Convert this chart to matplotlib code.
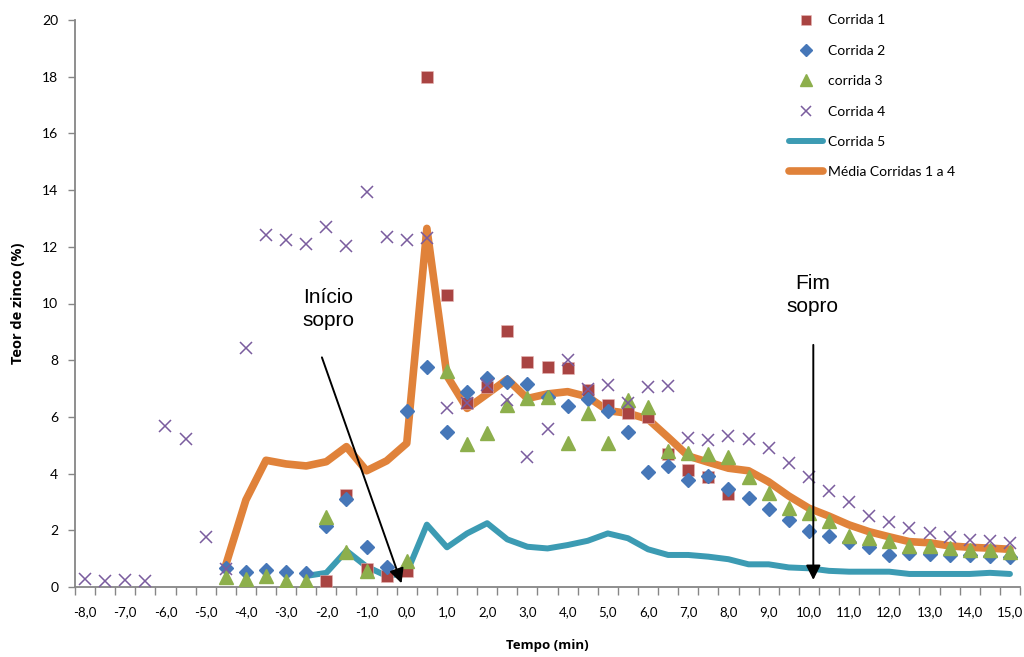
import numpy as np
import matplotlib
matplotlib.use('Agg')
import matplotlib.pyplot as plt

nan = np.nan

# ── Data (teor de zinco, %) ───────────────────────────────────
tempo = [-8.0, -7.5, -7.0, -6.5, -6.0, -5.5, -5.0, -4.5, -4.0, -3.5,
         -3.0, -2.5, -2.0, -1.5, -1.0, -0.5, 0.0, 0.5, 1.0, 1.5,
         2.0, 2.5, 3.0, 3.5, 4.0, 4.5, 5.0, 5.5, 6.0, 6.5,
         7.0, 7.5, 8.0, 8.5, 9.0, 9.5, 10.0, 10.5, 11.0, 11.5,
         12.0, 12.5, 13.0, 13.5, 14.0, 14.5, 15.0]

corrida1 = [nan] * 12 + [
    0.2, 3.25, 0.65, 0.38, 0.55, 18.0, 10.3, 6.5, 7.05, 9.03,
    7.93, 7.77, 7.71, 6.95, 6.42, 6.13, 6.0, 4.7, 4.12, 3.87,
    3.28] + [nan] * 14

corrida2 = [nan] * 7 + [
    0.66, 0.54, 0.6, 0.54, 0.5, 2.15, 3.12, 1.4, 0.72, 6.22,
    7.75, 5.46, 6.88, 7.38, 7.22, 7.16, 6.71, 6.38, 6.63, 6.22,
    5.48, 4.07, 4.27, 3.77, 3.92, 3.46, 3.13, 2.74, 2.36, 1.98,
    1.8, 1.6, 1.42, 1.13, 1.2, 1.17, 1.12, 1.12, 1.08, 1.05]

corrida3 = [nan] * 7 + [
    0.36, 0.28, 0.39, 0.21, 0.21, 2.48, 1.25, 0.57, nan, 0.9,
    nan, 7.63, 5.03, 5.42, 6.42, 6.65, 6.71, 5.09, 6.15, 5.09,
    6.6, 6.34, 4.81, 4.72, 4.68, 4.6, 3.87, 3.33, 2.78, 2.6,
    2.34, 1.8, 1.72, 1.63, 1.45, 1.43, 1.37, 1.31, 1.31, 1.25]

corrida4 = [0.27, 0.22, 0.25, 0.22, 5.68, 5.21, 1.75, 0.62, 8.44, 12.42,
            12.24, 12.09, 12.71, 12.03, 13.92, 12.33, 12.24, 12.3, 6.32, 6.5,
            7.12, 6.6, 4.6, 5.56, 8.0, 7.0, 7.12, 6.48, 7.07, 7.09,
            5.24, 5.17, 5.33, 5.21, 4.89, 4.39, 3.89, 3.4, 2.99, 2.5,
            2.3, 2.07, 1.89, 1.75, 1.66, 1.64, 1.56]

corrida5 = [nan] * 11 + [
    0.39, 0.5, 1.28, 0.72, 0.39, 0.5, 2.2, 1.4, 1.89, 2.25,
    1.68, 1.42, 1.36, 1.48, 1.63, 1.89, 1.72, 1.33, 1.13, 1.13,
    1.07, 0.98, 0.8, 0.8, 0.69, 0.66, 0.57, 0.54, 0.54, 0.54,
    0.46, 0.46, 0.46, 0.46, 0.5, 0.46]

media = [nan] * 7 + [
    0.78, 3.07, 4.47, 4.34, 4.27, 4.42, 4.95, 4.1, 4.45, 5.07,
    12.65, 7.45, 6.3, 6.81, 7.33, 6.65, 6.81, 6.89, 6.71, 6.22,
    6.13, 5.92, 5.28, 4.62, 4.4, 4.19, 4.1, 3.71, 3.21, 2.78,
    2.5, 2.19, 1.95, 1.77, 1.6, 1.56, 1.45, 1.4, 1.37, 1.33]

x_labels = [-8, -7, -6, -5, -4, -3, -2, -1, 0, 1, 2, 3, 4, 5, 6, 7,
            8, 9, 10, 11, 12, 13, 14, 15]

RED, BLUE, GREEN = '#A94442', '#4677B8', '#8DAF4C'
PURPLE, TEAL, ORANGE = '#7A5C9E', '#3C9BB3', '#E0823A'
FONT = 'Lato'

# ── Figure ────────────────────────────────────────────────────
fig = plt.figure(figsize=(10.24, 6.57), dpi=100)
ax = fig.add_axes([75/1024, 1 - 587/657, 945/1024, 567/657])

ax.plot(tempo, corrida5, color=TEAL, lw=4.3, solid_joinstyle='round',
        solid_capstyle='round', label='Corrida 5', zorder=2)
ax.plot(tempo, media, color=ORANGE, lw=5.5, solid_joinstyle='round',
        solid_capstyle='round', label='Média Corridas 1 a 4', zorder=2)

ax.plot(tempo, corrida1, ls='none', marker='s', ms=8.5, color=RED,
        mec='#E8B8B6', mew=0.4, label='Corrida 1', zorder=3)
ax.plot(tempo, corrida2, ls='none', marker='D', ms=7, color=BLUE,
        mec=BLUE, label='Corrida 2', zorder=3)
ax.plot(tempo, corrida3, ls='none', marker='^', ms=9.5, color=GREEN,
        mec=GREEN, label='corrida 3', zorder=3)
ax.plot(tempo, corrida4, ls='none', marker='x', ms=8, mew=1.1, color=PURPLE,
        label='Corrida 4', zorder=3)

# ── Axes styling ──────────────────────────────────────────────
ax.set_xlim(-8.25, 15.25)
ax.set_ylim(0, 20)
ax.set_yticks(range(0, 21, 2))
ax.set_xticks(x_labels)
ax.set_xticklabels([f'{v:.1f}'.replace('.', ',') for v in x_labels])
ax.set_xticks(np.arange(-8.25, 15.3, 0.5), minor=True)
ax.tick_params(axis='x', which='major', length=0, pad=14, labelsize=9.5)
ax.tick_params(axis='x', which='minor', length=6, color='#868686', width=1)
ax.tick_params(axis='y', length=5, color='#868686', width=1, labelsize=10, pad=7)
for lbl in ax.get_xticklabels() + ax.get_yticklabels():
    lbl.set_family(FONT)

for s in ['top', 'right']:
    ax.spines[s].set_visible(False)
for s in ['left', 'bottom']:
    ax.spines[s].set_color('#868686')
    ax.spines[s].set_linewidth(1.3)

ax.set_ylabel('Teor de zinco (%)', fontsize=10.5, fontweight='bold',
              family='Open Sans', labelpad=12)
ax.set_xlabel('Tempo (min)', fontsize=9.5, fontweight='bold',
              family='Open Sans', labelpad=15)

# ── Annotations ───────────────────────────────────────────────
ax.annotate('', xy=(-0.13, 0.13), xytext=(-2.11, 8.1),
            arrowprops=dict(arrowstyle='-|>', color='black', lw=1.4,
                            mutation_scale=22, shrinkA=0, shrinkB=0))
ax.text(-1.95, 9.8, 'Início\nsopro', ha='center', va='center',
        fontsize=15, family='Liberation Sans', linespacing=1.3)

ax.annotate('', xy=(10.11, 0.25), xytext=(10.11, 8.54),
            arrowprops=dict(arrowstyle='-|>', color='black', lw=1.4,
                            mutation_scale=22, shrinkA=0, shrinkB=0))
ax.text(10.1, 10.3, 'Fim\nsopro', ha='center', va='center',
        fontsize=15, family='Liberation Sans', linespacing=1.3)

# ── Legend ────────────────────────────────────────────────────
h, l = ax.get_legend_handles_labels()
order = [2, 3, 4, 5, 0, 1]
ax.legend([h[i] for i in order], [l[i] for i in order],
          loc='upper left', bbox_to_anchor=(776/1024, 1 - 2/657),
          bbox_transform=fig.transFigure, frameon=False,
          prop={'family': FONT, 'size': 10}, handlelength=2.5,
          handletextpad=0.35, labelspacing=1.32, markerscale=0.85)

fig.savefig('out.png', dpi=100)
